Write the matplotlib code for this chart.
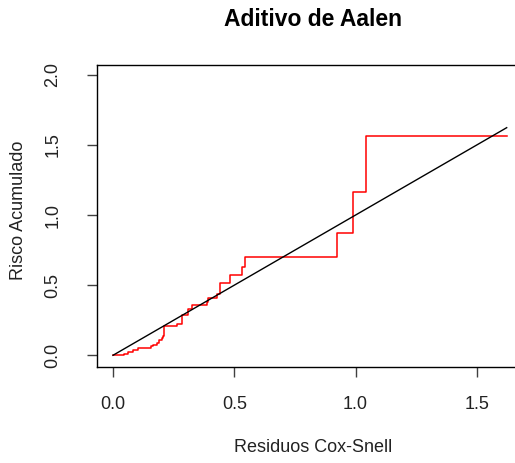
import matplotlib
matplotlib.use("Agg")
import matplotlib.pyplot as plt
import numpy as np

plt.rcParams['font.family'] = ['Liberation Sans', 'DejaVu Sans']

# Cumulative hazard of the Cox-Snell residuals (Aalen additive model)
step_times = [0.000, 0.045, 0.062, 0.084, 0.105, 0.158, 0.166, 0.180, 0.190,
              0.200, 0.206, 0.212, 0.262, 0.285, 0.310, 0.324, 0.386, 0.393,
              0.427, 0.441, 0.482, 0.530, 0.544, 0.922, 0.991, 1.043, 1.625]
cum_hazard = [0.000, 0.010, 0.020, 0.036, 0.050, 0.063, 0.071, 0.088, 0.107,
              0.125, 0.140, 0.207, 0.226, 0.286, 0.333, 0.357, 0.381, 0.405,
              0.440, 0.512, 0.571, 0.626, 0.698, 0.874, 1.162, 1.567, 1.567]

# Reference line y = x over the residual range
ref_x = [0.0, 1.623]
ref_y = [0.0, 1.623]

x_ticks = [0.0, 0.5, 1.0, 1.5]
y_ticks = [0.0, 0.5, 1.0, 1.5, 2.0]

W, H = 515, 463
fig = plt.figure(figsize=(W / 100, H / 100), dpi=100)

# plot region in pixels: left 97, right 529 (runs past the edge), top 65, bottom 367
left, right, top, bottom = 97, 529, 65, 366.5
ax = fig.add_axes([left / W, 1 - bottom / H, (right - left) / W, (bottom - top) / H])

ax.step(step_times, cum_hazard, where='post', color='red', lw=1.1)
ax.plot(ref_x, ref_y, color='black', lw=1.0)

ax.set_xlim(-0.066, 1.715)
ax.set_ylim(-0.08, 2.07)
ax.set_xticks(x_ticks)
ax.set_yticks(y_ticks)
ax.set_xticklabels([f"{v:.1f}" for v in x_ticks])
ax.set_yticklabels([f"{v:.1f}" for v in y_ticks], rotation=90, va='center')

for s in ax.spines.values():
    s.set_linewidth(1.0)
    s.set_color('black')

ax.tick_params(axis='both', direction='out', length=7.5, width=1.0,
               color='#404040', labelsize=13, labelcolor='#222222')
ax.tick_params(axis='x', pad=14)
ax.tick_params(axis='y', pad=18)

fig.text(313 / W, 1 - 20 / H, "Aditivo de Aalen", ha='center', va='center',
         fontsize=16.5, fontweight='bold')
fig.text(313 / W, 1 - 448 / H, "Residuos Cox-Snell", ha='center', va='center',
         fontsize=13, color='#222222')
fig.text(18.5 / W, 1 - 210 / H, "Risco Acumulado", ha='center', va='center',
         rotation=90, fontsize=13, color='#222222')

fig.savefig("out.png", dpi=100)
